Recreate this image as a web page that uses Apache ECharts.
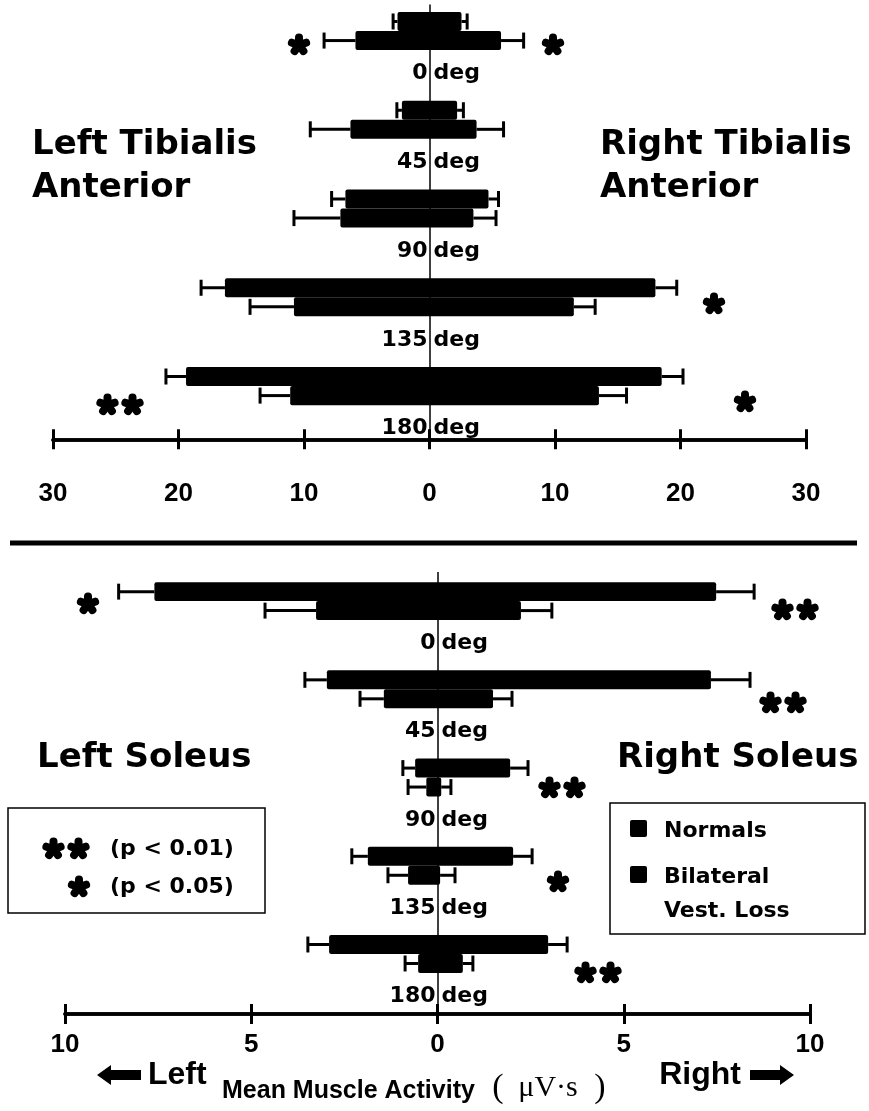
<!DOCTYPE html>
<html>
<head>
<meta charset="utf-8">
<title>Mean Muscle Activity</title>
<script src="https://cdn.jsdelivr.net/npm/echarts@6/dist/echarts.min.js"></script>
<style>
  html, body { margin: 0; padding: 0; background: #fff; }
  #chart { width: 869px; height: 1111px; }
</style>
</head>
<body>
<div id="chart"></div>
<script>
// Tilt angles (rows, top to bottom)
const angles = [0, 45, 90, 135, 180];

// Tibialis anterior, mean activity (µV·s) and SEM, left / right leg
const taNormalsLeft      = [2.55, 2.2, 6.7, 16.3, 19.4];
const taNormalsLeftSem   = [0.35, 0.4, 1.1, 1.9, 1.6];
const taNormalsRight     = [2.55, 2.2, 4.7, 18.0, 18.5];
const taNormalsRightSem  = [0.45, 0.5, 0.8, 1.7, 1.7];
const taBvlLeft          = [5.9, 6.3, 7.1, 10.8, 11.1];
const taBvlLeftSem       = [2.5, 3.2, 3.7, 3.5, 2.4];
const taBvlRight         = [5.7, 3.75, 3.5, 11.5, 13.5];
const taBvlRightSem      = [1.8, 2.15, 1.8, 1.7, 2.2];

// Soleus, mean activity (µV·s) and SEM, left / right leg
const solNormalsLeft     = [7.6, 2.97, 0.6, 1.87, 2.91];
const solNormalsLeftSem  = [0.96, 0.59, 0.33, 0.43, 0.57];
const solNormalsRight    = [7.48, 7.34, 1.95, 2.03, 2.97];
const solNormalsRightSem = [1.02, 1.05, 0.48, 0.51, 0.51];
const solBvlLeft         = [3.26, 1.44, 0.3, 0.79, 0.52];
const solBvlLeftSem      = [1.37, 0.64, 0.49, 0.54, 0.35];
const solBvlRight        = [2.24, 1.49, 0.1, 0.07, 0.68];
const solBvlRightSem     = [0.83, 0.51, 0.26, 0.40, 0.27];

// Axis ticks
const taTicks  = [-30, -20, -10, 0, 10, 20, 30];
const solTicks = [-10, -5, 0, 5, 10];

const INK = '#000';
const SANS = '"DejaVu Sans", sans-serif';
const ARIAL = '"Liberation Sans", Arial, sans-serif';
const SERIF = '"Liberation Serif", "DejaVu Serif", serif';
const BAND = 0.215;       // bar thickness in row units
const LABEL_SHIFT = 0.48; // row label sits below the pair of bars

function rows(left, leftSem, right, rightSem) {
  return angles.map((a, i) => [i, left[i], leftSem[i], right[i], rightSem[i]]);
}

// One horizontal bar spanning -left .. +right with error whiskers at both ends
function barRenderer(upper) {
  return function (params, api) {
    const row = api.value(0);
    const lm = api.value(1), ls = api.value(2), rm = api.value(3), rs = api.value(4);
    const y0 = upper ? row - BAND : row;
    const y1 = upper ? row : row + BAND;
    const yc = (y0 + y1) / 2;
    const tl = api.coord([-lm, y0]);
    const br = api.coord([rm, y1]);
    const capL = api.coord([-(lm + ls), yc]);
    const capR = api.coord([rm + rs, yc]);
    const h = br[1] - tl[1];
    const ch = h * 0.42;
    const yy = capL[1];
    const lineStyle = { stroke: INK, lineWidth: 3, lineCap: 'butt' };
    return {
      type: 'group',
      children: [
        { type: 'line', shape: { x1: tl[0], y1: yy, x2: capL[0], y2: yy }, style: lineStyle },
        { type: 'line', shape: { x1: capL[0], y1: yy - ch, x2: capL[0], y2: yy + ch }, style: lineStyle },
        { type: 'line', shape: { x1: br[0], y1: yy, x2: capR[0], y2: yy }, style: lineStyle },
        { type: 'line', shape: { x1: capR[0], y1: yy - ch, x2: capR[0], y2: yy + ch }, style: lineStyle },
        { type: 'rect', shape: { x: tl[0], y: tl[1], width: br[0] - tl[0], height: h, r: 2 }, style: { fill: INK } }
      ]
    };
  };
}

// "<angle> deg" split around the zero line
function rowLabelRenderer(params, api) {
  const p = api.coord([0, api.value(0) + LABEL_SHIFT]);
  const font = 'bold 22px ' + SANS;
  return {
    type: 'group',
    children: [
      { type: 'text', x: p[0] - 2, y: p[1], style: { text: String(api.value(1)), font, fill: INK, align: 'right', verticalAlign: 'middle' } },
      { type: 'text', x: p[0] + 4, y: p[1], style: { text: 'deg', font, fill: INK, align: 'left', verticalAlign: 'middle' } }
    ]
  };
}

function xAxisPair(grid, ticks, margin) {
  const min = ticks[0], max = ticks[ticks.length - 1], interval = ticks[1] - ticks[0];
  const base = {
    gridIndex: grid, type: 'value', min, max, interval, position: 'bottom',
    axisLine: { onZero: false, lineStyle: { color: INK, width: 3.5 } },
    splitLine: { show: false }
  };
  return [
    Object.assign({}, base, {
      axisTick: { length: 10, lineStyle: { color: INK, width: 3 } },
      axisLabel: { margin, formatter: v => String(Math.abs(v)), color: INK, fontSize: 26, fontWeight: 'bold', fontFamily: ARIAL }
    }),
    Object.assign({}, base, {
      axisTick: { inside: true, length: 10, lineStyle: { color: INK, width: 3 } },
      axisLabel: { show: false }
    })
  ];
}

const zeroLine = {
  silent: true, symbol: 'none', label: { show: false },
  lineStyle: { color: INK, width: 1.5, type: 'solid' },
  data: [{ xAxis: 0 }]
};

function barSeries(name, xi, yi, data, upper, withZero) {
  const s = {
    name, type: 'custom', xAxisIndex: xi, yAxisIndex: yi,
    renderItem: barRenderer(upper), data, encode: { x: 3, y: 0 }, z: 3
  };
  if (withZero) s.markLine = zeroLine;
  return s;
}

function labelSeries(xi, yi) {
  return {
    type: 'custom', xAxisIndex: xi, yAxisIndex: yi, silent: true, z: 4,
    renderItem: rowLabelRenderer, data: angles.map((a, i) => [i, a]), encode: { x: 1, y: 0 }
  };
}

// Text helper for the free annotations
function txt(x, y, text, font, align) {
  return { type: 'text', x, y, silent: true, style: { text, font, fill: INK, align: align || 'left', verticalAlign: 'middle' } };
}

// Heavy five-lobed asterisk(s) centred on (cx, cy); count = 1 or 2
function star(cx, cy, count) {
  const children = [];
  for (let k = 0; k < count; k++) {
    const x = cx + (k - (count - 1) / 2) * 25;
    for (let a = 0; a < 5; a++) {
      const ang = -Math.PI / 2 + a * 2 * Math.PI / 5;
      children.push({
        type: 'line',
        shape: { x1: x, y1: cy, x2: x + 7.5 * Math.cos(ang), y2: cy + 7.5 * Math.sin(ang) },
        style: { stroke: INK, lineWidth: 8, lineCap: 'round' }
      });
    }
  }
  return { type: 'group', silent: true, children };
}

function arrow(tipX, y, dir) {
  const head = 14 * dir, len = 44 * dir;
  return {
    type: 'polygon', silent: true,
    shape: { points: [
      [tipX, y], [tipX + head, y - 10], [tipX + head, y - 5], [tipX + len, y - 5],
      [tipX + len, y + 5], [tipX + head, y + 5], [tipX + head, y + 10]
    ] },
    style: { fill: INK }
  };
}

const TITLE_FONT = 'bold 34px ' + SANS;
const LEG_FONT = 'bold 22px ' + SANS;

const graphics = [
  // muscle titles
  txt(32, 145, 'Left Tibialis', TITLE_FONT), txt(32, 188, 'Anterior', TITLE_FONT),
  txt(600, 145, 'Right Tibialis', TITLE_FONT), txt(600, 188, 'Anterior', TITLE_FONT),
  txt(37, 758, 'Left Soleus', TITLE_FONT), txt(617, 758, 'Right Soleus', TITLE_FONT),
  // divider between the two muscles
  { type: 'line', silent: true, shape: { x1: 10, y1: 543, x2: 857, y2: 543 }, style: { stroke: INK, lineWidth: 5 } },
  // significance marks, tibialis anterior
  star(299, 45, 1), star(553, 45, 1), star(714, 304, 1),
  star(120, 405, 2), star(745, 402, 1),
  // significance marks, soleus
  star(88, 604, 1), star(795, 610, 2), star(783, 703, 2),
  star(562, 788, 2), star(558, 882, 1), star(598, 973, 2),
  // significance key
  { type: 'rect', silent: true, shape: { x: 8, y: 808, width: 257, height: 105 }, style: { fill: 'none', stroke: INK, lineWidth: 1.5 } },
  star(66, 849, 2), txt(110, 849, '(p < 0.01)', LEG_FONT),
  star(79, 887, 1), txt(110, 887, '(p < 0.05)', LEG_FONT),
  // group key
  { type: 'rect', silent: true, shape: { x: 610, y: 803, width: 255, height: 131 }, style: { fill: 'none', stroke: INK, lineWidth: 1.5 } },
  { type: 'rect', silent: true, shape: { x: 630, y: 820, width: 17, height: 17, r: 2 }, style: { fill: INK } },
  txt(664, 831, 'Normals', LEG_FONT),
  { type: 'rect', silent: true, shape: { x: 630, y: 866, width: 17, height: 17, r: 2 }, style: { fill: INK } },
  txt(664, 877, 'Bilateral', LEG_FONT),
  txt(664, 911, 'Vest. Loss', LEG_FONT),
  // direction hints and axis title
  arrow(97, 1075, 1), txt(148, 1075, 'Left', 'bold 32px ' + ARIAL),
  arrow(794, 1075, -1), txt(741, 1075, 'Right', 'bold 32px ' + ARIAL, 'right'),
  txt(222, 1091, 'Mean Muscle Activity', 'bold 25px ' + ARIAL),
  txt(498, 1088, '(', '34px ' + SERIF, 'center'),
  txt(548, 1088, '\u03bcV\u00b7s', '30px ' + SERIF, 'center'),
  txt(600, 1088, ')', '34px ' + SERIF, 'center')
];

const option = {
  backgroundColor: '#fff',
  animation: false,
  grid: [
    { left: 53, right: 63, top: 4.4, height: 434.9 },
    { left: 65, right: 59, top: 572, height: 442 }
  ],
  xAxis: xAxisPair(0, taTicks, 42).concat(xAxisPair(1, solTicks, 18)),
  yAxis: [
    { gridIndex: 0, type: 'value', min: -0.3, max: 4.6, inverse: true, show: false },
    { gridIndex: 1, type: 'value', min: -0.33, max: 4.68, inverse: true, show: false }
  ],
  series: [
    barSeries('Normals', 0, 0, rows(taNormalsLeft, taNormalsLeftSem, taNormalsRight, taNormalsRightSem), true, true),
    barSeries('Bilateral Vest. Loss', 0, 0, rows(taBvlLeft, taBvlLeftSem, taBvlRight, taBvlRightSem), false, false),
    labelSeries(0, 0),
    barSeries('Normals', 2, 1, rows(solNormalsLeft, solNormalsLeftSem, solNormalsRight, solNormalsRightSem), true, true),
    barSeries('Bilateral Vest. Loss', 2, 1, rows(solBvlLeft, solBvlLeftSem, solBvlRight, solBvlRightSem), false, false),
    labelSeries(2, 1)
  ],
  graphic: graphics
};

const chart = echarts.init(document.getElementById('chart'), null, { renderer: 'canvas' });
chart.setOption(option);
</script>
</body>
</html>
